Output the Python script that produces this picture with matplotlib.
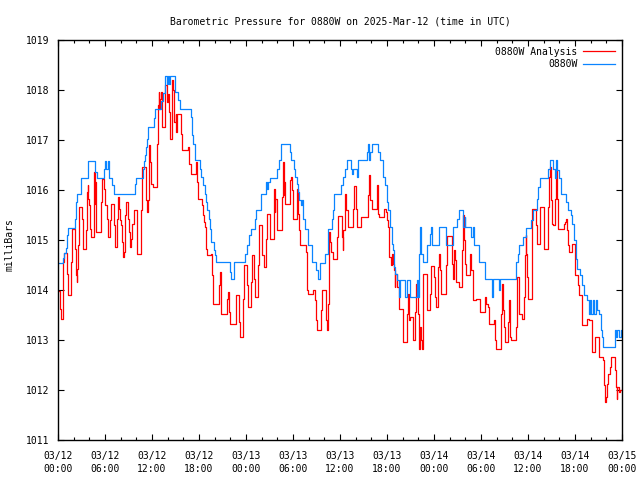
import matplotlib
matplotlib.use("Agg")
import matplotlib.pyplot as plt
from matplotlib.ticker import MultipleLocator

# ---------------- data (hours since 2025-03-12 00:00 UTC, millibars) ----------------
analysis_hours = [
    0.0, 0.25, 0.4, 0.6, 0.68, 0.8, 1.15, 1.23, 1.66, 1.79, 2.21, 2.3, 2.38, 2.43, 2.51, 2.64, 2.72,
    3.02, 3.15, 3.23, 3.57, 3.66, 3.79, 3.87, 4.0, 4.13, 4.21, 4.55, 4.64, 4.72, 4.77, 4.85, 5.53,
    5.66, 5.83, 6.04, 6.21, 6.34, 6.6, 6.77, 7.19, 7.28, 7.57, 7.7, 7.83, 7.96, 8.09, 8.17, 8.34,
    8.47, 8.6, 8.72, 8.98, 9.11, 9.23, 9.36, 9.49, 9.7, 10.13, 10.6, 10.72, 11.23, 11.4, 11.49,
    11.62, 11.74, 11.91, 12.17, 12.68, 12.77, 12.85, 12.94, 13.02, 13.19, 13.28, 13.66, 13.7,
    13.87, 14.0, 14.13, 14.3, 14.5, 14.6, 14.68, 14.85, 15.02, 15.06, 15.15, 15.7, 15.87, 16.55,
    16.77, 16.94, 17.66, 17.79, 17.87, 18.42, 18.55, 18.64, 18.81, 18.94, 19.06, 19.57, 19.7,
    19.79, 20.55, 20.64, 20.77, 20.85, 21.57, 21.7, 21.79, 21.91, 22.68, 22.77, 23.11, 23.19,
    23.62, 23.74, 24.17, 24.26, 24.6, 24.72, 25.02, 25.19, 25.53, 25.66, 26.09, 26.26, 26.55,
    26.68, 27.11, 27.57, 27.66, 27.74, 27.91, 28.64, 28.72, 28.8, 28.88, 28.95, 29.62, 29.74,
    29.91, 30.04, 30.55, 30.68, 30.81, 30.89, 31.66, 31.83, 31.96, 32.51, 32.81, 32.94, 33.11,
    33.53, 33.66, 34.17, 34.3, 34.51, 34.64, 34.72, 34.81, 35.15, 35.57, 35.7, 36.21, 36.34,
    36.43, 36.64, 36.77, 36.98, 37.62, 37.74, 38.08, 38.21, 38.64, 39.53, 39.66, 39.83, 40.04,
    40.68, 40.81, 40.98, 41.66, 41.83, 41.96, 42.09, 42.21, 42.47, 42.6, 42.72, 42.89, 42.98,
    43.06, 43.28, 43.49, 43.58, 44.05, 44.55, 44.68, 44.77, 44.9, 45.28, 45.62, 45.7, 45.83,
    45.96, 46.13, 46.26, 46.38, 46.47, 46.6, 47.11, 47.53, 47.66, 48.04, 48.17, 48.3, 48.47,
    48.6, 48.81, 48.94, 49.53, 49.66, 50.3, 50.43, 50.51, 50.64, 50.81, 51.23, 51.57, 51.66,
    51.79, 51.91, 52.09, 52.64, 52.77, 52.94, 53.41, 53.92, 54.47, 54.68, 54.85, 54.98, 55.62,
    55.83, 55.91, 56.55, 56.68, 56.81, 56.98, 57.07, 57.45, 57.58, 57.71, 57.79, 58.43, 58.56,
    58.64, 58.81, 58.89, 59.28, 59.49, 59.62, 59.7, 59.79, 59.92, 60.05, 60.47, 60.56, 61.07,
    61.2, 61.54, 62.09, 62.6, 62.68, 62.77, 62.88, 63.0, 63.17, 63.51, 63.6, 63.71, 63.84, 64.6,
    64.72, 64.85, 64.94, 65.11, 65.28, 65.66, 65.96, 66.43, 66.55, 66.94, 67.58, 67.79, 68.13,
    68.56, 69.07, 69.62, 69.7, 69.83, 69.96, 70.13, 70.26, 70.47, 70.6, 71.07, 71.19, 71.32,
    71.41, 71.58, 71.75, 72.0,
]
analysis_mb = [
    1013.99, 1013.63, 1013.43, 1014.10, 1014.57, 1014.75, 1014.33, 1013.90, 1014.57, 1015.23,
    1014.83, 1014.30, 1014.17, 1014.43, 1014.90, 1015.43, 1015.67, 1015.43, 1015.03, 1014.83,
    1015.20, 1015.97, 1016.10, 1015.83, 1015.70, 1015.23, 1015.07, 1015.73, 1016.37, 1015.73,
    1016.17, 1015.17, 1015.77, 1016.23, 1016.03, 1015.70, 1015.43, 1015.07, 1015.40, 1015.73,
    1015.30, 1014.87, 1015.43, 1015.87, 1015.63, 1015.40, 1015.30, 1014.97, 1014.67, 1014.77,
    1015.50, 1015.77, 1015.43, 1015.17, 1014.87, 1015.03, 1015.33, 1015.60, 1014.73, 1015.60,
    1016.47, 1015.80, 1015.57, 1015.80, 1016.90, 1016.57, 1016.13, 1016.07, 1016.93, 1017.70,
    1017.97, 1017.63, 1017.83, 1017.97, 1017.27, 1017.97, 1018.10, 1017.77, 1017.93, 1017.57,
    1017.03, 1017.93, 1018.20, 1018.00, 1017.37, 1017.53, 1017.17, 1017.53, 1017.13, 1016.80,
    1016.87, 1016.53, 1016.33, 1016.57, 1016.17, 1015.83, 1015.70, 1015.50, 1015.37, 1015.27,
    1014.83, 1014.70, 1014.73, 1014.30, 1013.73, 1014.10, 1014.37, 1013.83, 1013.53, 1013.83,
    1013.97, 1013.57, 1013.33, 1013.60, 1013.90, 1013.37, 1013.07, 1013.83, 1014.50, 1014.10,
    1013.67, 1014.17, 1014.70, 1014.23, 1013.87, 1014.50, 1015.30, 1014.70, 1014.47, 1015.03,
    1015.53, 1015.03, 1016.03, 1015.57, 1015.83, 1015.20, 1015.87, 1016.57, 1015.90, 1016.17,
    1015.73, 1016.20, 1016.27, 1016.00, 1015.43, 1016.03, 1015.53, 1015.20, 1014.90, 1014.77,
    1014.00, 1013.93, 1014.00, 1013.80, 1013.40, 1013.20, 1013.60, 1014.00, 1013.40, 1013.20,
    1013.73, 1015.17, 1014.97, 1014.77, 1014.63, 1015.07, 1015.49, 1015.07, 1014.80, 1015.20,
    1015.93, 1015.60, 1015.27, 1015.63, 1016.08, 1015.63, 1015.27, 1015.47, 1015.90, 1016.30,
    1015.80, 1015.63, 1016.10, 1015.53, 1015.47, 1015.63, 1015.57, 1015.40, 1015.27, 1014.67,
    1014.50, 1014.73, 1014.53, 1014.40, 1014.07, 1014.33, 1014.07, 1013.87, 1013.63, 1012.97,
    1013.53, 1013.93, 1013.40, 1013.47, 1013.00, 1013.57, 1014.13, 1014.00, 1013.53, 1012.83,
    1013.27, 1013.00, 1012.83, 1014.33, 1013.60, 1013.93, 1014.48, 1014.27, 1013.87, 1013.67,
    1014.47, 1014.73, 1014.40, 1013.93, 1014.50, 1015.08, 1014.53, 1014.23, 1014.80, 1014.60,
    1014.17, 1014.07, 1014.80, 1015.50, 1015.00, 1014.53, 1014.30, 1014.73, 1014.40, 1013.80,
    1013.83, 1013.57, 1013.87, 1013.73, 1013.67, 1013.33, 1013.40, 1013.00, 1012.83, 1013.53,
    1014.13, 1013.60, 1013.27, 1012.97, 1013.37, 1013.80, 1013.07, 1013.00, 1013.27,
    1013.93, 1014.27, 1013.93, 1013.53, 1013.43, 1013.87, 1014.70, 1015.10, 1014.73, 1014.27,
    1013.83, 1014.73, 1015.63, 1015.30, 1014.93, 1015.67, 1014.83, 1015.67, 1016.27, 1016.47,
    1015.80, 1015.33, 1015.30, 1015.83, 1016.40, 1015.83, 1015.23, 1015.33, 1015.37, 1015.43,
    1015.20, 1014.90, 1014.77, 1014.93, 1014.30, 1014.10, 1013.90, 1013.30, 1013.43, 1013.40,
    1012.77, 1013.07, 1012.67, 1012.60, 1012.10, 1011.77, 1011.87, 1012.13, 1012.33, 1012.47,
    1012.67, 1012.40, 1012.07, 1011.83, 1012.07, 1011.97, 1012.00, 1012.00,
]

station_hours = [
    0.0, 0.68, 0.81, 1.02, 1.11, 1.15, 1.23, 2.21, 2.3, 2.38, 2.98, 3.87, 4.77, 4.94, 5.91, 6.04,
    6.13, 6.34, 6.47, 6.55, 6.89, 7.1, 9.8, 9.96, 10.9, 11.0, 11.15, 11.28, 11.4, 11.49, 12.21,
    12.34, 13.15, 13.4, 13.66, 13.7, 13.9, 14.0, 14.15, 14.25, 14.98, 15.32, 15.53, 16.94, 17.11,
    17.24, 17.45, 17.53, 18.08, 18.21, 18.51, 18.72, 18.94, 19.06, 19.23, 19.45, 19.57, 19.87,
    20.08, 20.21, 21.96, 22.04, 22.51, 23.83, 24.09, 24.43, 24.6, 25.19, 25.32, 25.96, 26.6,
    26.72, 26.81, 27.02, 27.96, 28.17, 28.51, 29.62, 29.7, 30.13, 30.3, 30.47, 30.68, 30.81,
    30.98, 31.11, 31.32, 31.53, 31.96, 32.38, 32.94, 33.15, 33.45, 34.09, 34.51, 34.94, 35.15,
    35.28, 36.13, 36.34, 36.64, 36.85, 37.36, 37.49, 37.7, 38.13, 38.34, 39.49, 39.53, 39.66,
    39.83, 40.04, 40.89, 41.11, 41.53, 41.75, 41.96, 42.17, 42.38, 42.6, 42.72, 42.89, 43.07,
    43.28, 43.49, 43.7, 44.34, 44.55, 44.98, 45.83, 45.96, 46.13, 46.26, 46.38, 46.55, 47.11,
    47.53, 47.66, 47.74, 48.6, 49.58, 50.43, 50.94, 51.15, 51.66, 51.91, 51.99, 52.77, 52.94,
    53.06, 53.79, 54.55, 55.41, 55.53, 56.26, 56.47, 58.43, 58.73, 58.81, 59.41, 59.71, 60.43,
    60.6, 61.11, 61.32, 61.49, 62.6, 62.77, 63.2, 63.41, 63.62, 63.66, 63.96, 64.18, 64.26, 64.9,
    65.11, 65.54, 65.67, 65.88, 66.09, 66.3, 66.64, 66.94, 67.16, 67.5, 67.79, 67.92, 68.09,
    68.26, 68.43, 68.64, 68.86, 69.07, 69.28, 69.49, 69.62, 71.11, 71.28, 71.41, 71.62, 71.83,
    72.0,
]
station_mb = [
    1014.55, 1014.65, 1014.75, 1014.85, 1014.90, 1015.10, 1015.25, 1015.43, 1015.77, 1015.93,
    1016.25, 1016.59, 1016.37, 1016.25, 1016.43, 1016.59, 1016.43, 1016.59, 1016.43, 1016.25,
    1016.10, 1015.93, 1016.12, 1016.25, 1016.42, 1016.59, 1016.70, 1016.87, 1017.03, 1017.27,
    1017.45, 1017.62, 1017.78, 1017.95, 1018.12, 1018.29, 1018.12, 1018.29, 1018.12, 1018.29,
    1017.97, 1017.80, 1017.62, 1017.47, 1017.10, 1016.93, 1016.77, 1016.60, 1016.43, 1016.27,
    1016.10, 1015.93, 1015.77, 1015.60, 1015.43, 1015.23, 1014.97, 1014.80, 1014.70, 1014.57,
    1014.37, 1014.22, 1014.57, 1014.73, 1014.90, 1015.10, 1015.23, 1015.43, 1015.60, 1015.93,
    1016.17, 1016.03, 1016.17, 1016.25, 1016.43, 1016.60, 1016.93, 1016.77, 1016.60, 1016.43,
    1016.27, 1016.13, 1015.97, 1015.80, 1015.70, 1015.80, 1015.43, 1015.23, 1014.90, 1014.57,
    1014.40, 1014.22, 1014.55, 1014.73, 1015.23, 1015.43, 1015.60, 1015.93, 1016.10, 1016.27,
    1016.43, 1016.60, 1016.43, 1016.33, 1016.43, 1016.27, 1016.60, 1016.77, 1016.93, 1016.60,
    1016.77, 1016.93, 1016.77, 1016.60, 1016.27, 1016.10, 1015.77, 1015.60, 1015.27, 1014.93,
    1014.80, 1014.47, 1014.33, 1014.20, 1013.87, 1014.20, 1013.87, 1014.20, 1013.87, 1014.20,
    1013.87, 1014.73, 1015.27, 1014.73, 1014.57, 1014.90, 1015.13, 1015.27, 1014.90, 1015.27,
    1014.90, 1015.27, 1015.43, 1015.60, 1015.27, 1015.47, 1015.27, 1015.07, 1015.27, 1014.90,
    1014.57, 1014.23, 1013.87, 1014.23, 1014.00, 1014.23, 1014.57, 1014.73, 1014.90, 1015.07,
    1015.25, 1015.40, 1015.60, 1015.83, 1016.07, 1016.25, 1016.43, 1016.60, 1016.43, 1016.25,
    1016.60, 1016.40, 1016.25, 1016.10, 1015.93, 1015.77, 1015.60, 1015.50, 1015.33, 1015.00,
    1014.63, 1014.43, 1014.30, 1014.10, 1013.90, 1013.80, 1013.53, 1013.80, 1013.53, 1013.80,
    1013.53, 1013.80, 1013.60, 1013.53, 1013.20, 1013.07, 1012.87, 1013.20, 1013.07, 1013.20,
    1013.07, 1013.20, 1013.20,
]

tick_hours = [0, 6, 12, 18, 24, 30, 36, 42, 48, 54, 60, 66, 72]
tick_labels = ["03/12\n00:00", "03/12\n06:00", "03/12\n12:00", "03/12\n18:00",
               "03/13\n00:00", "03/13\n06:00", "03/13\n12:00", "03/13\n18:00",
               "03/14\n00:00", "03/14\n06:00", "03/14\n12:00", "03/14\n18:00",
               "03/15\n00:00"]
series_names = ["0880W Analysis", "0880W"]
title_text = "Barometric Pressure for 0880W on 2025-Mar-12 (time in UTC)"
ylabel_text = "milliBars"

# ---------------- plot ----------------
plt.rcParams['font.family'] = ['DejaVu Sans Mono']
FS = 7

fig = plt.figure(figsize=(6.4, 4.8), dpi=100)
ax = fig.add_axes([58/640, 1 - 440/480, (622-58)/640, 400/480])

ax.plot(analysis_hours, analysis_mb, drawstyle='steps-post', color='#ff0000',
        linewidth=0.9, label=series_names[0])
ax.plot(station_hours, station_mb, drawstyle='steps-post', color='#0a84ff',
        linewidth=0.9, label=series_names[1])

ax.set_xlim(0, 72)
ax.set_ylim(1011, 1019)
ax.set_xticks(tick_hours)
ax.set_xticklabels(tick_labels, fontsize=FS, linespacing=1.35)
ax.xaxis.set_minor_locator(MultipleLocator(2))
ax.yaxis.set_major_locator(MultipleLocator(1))
ax.tick_params(axis='y', labelsize=FS, pad=6)
ax.tick_params(which='major', direction='in', length=4.5, width=0.8,
               top=True, right=True)
ax.tick_params(axis='x', which='major', pad=8)
ax.tick_params(which='minor', direction='in', length=2.2, width=0.8,
               top=True, right=True)
for s in ax.spines.values():
    s.set_linewidth(1.0)
    s.set_color('black')

ax.set_title(title_text, fontsize=FS, pad=11)
fig.text(10/640, 1 - 245/480, ylabel_text, rotation=90, fontsize=FS,
         ha='center', va='center')

leg = ax.legend(loc='upper right', frameon=False, fontsize=FS, markerfirst=False,
                alignment='right', handlelength=3.3, handletextpad=0.6,
                labelspacing=0.25, borderaxespad=0.3)

fig.savefig('out.png', dpi=100)
